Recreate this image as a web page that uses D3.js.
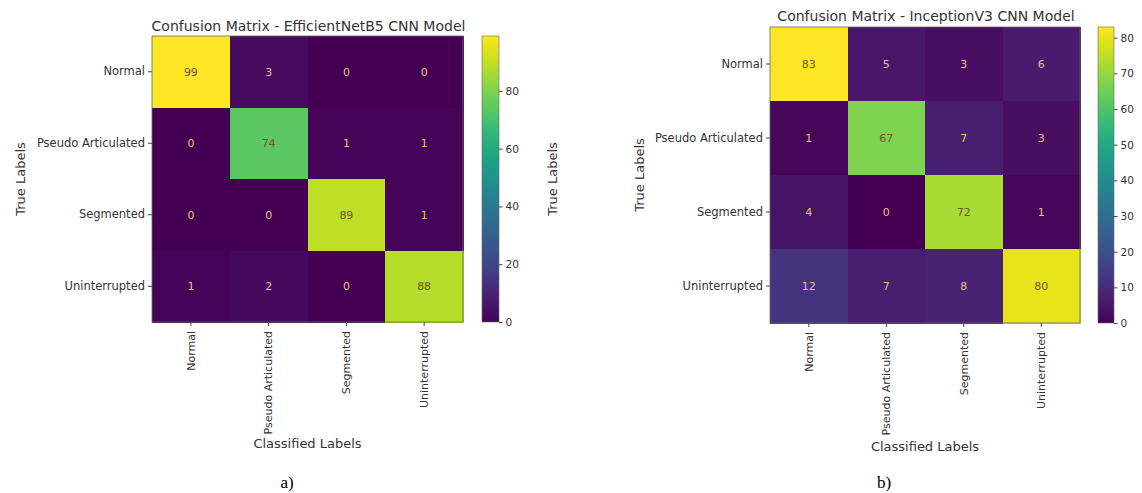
<!DOCTYPE html>
<html>
<head>
<meta charset="utf-8">
<script src="https://cdn.jsdelivr.net/npm/d3@7"></script>
<style>
  html, body { margin: 0; padding: 0; background: #fff; }
  svg { display: block; }
  .tick text { font-family: "DejaVu Sans", sans-serif; fill: #333; }
  .tick line { stroke: #444; }
</style>
</head>
<body>
<svg id="chart" width="1142" height="493"></svg>
<script>
// ---- data ----
const classes = ["Normal", "Pseudo Articulated", "Segmented", "Uninterrupted"];
const effnetTitle = "Confusion Matrix - EfficientNetB5 CNN Model";
const effnetValues = [
  [99, 3, 0, 0],
  [0, 74, 1, 1],
  [0, 0, 89, 1],
  [1, 2, 0, 88]
];
const effnetColorbarTicks = [0, 20, 40, 60, 80];
const inceptionTitle = "Confusion Matrix - InceptionV3 CNN Model";
const inceptionValues = [
  [83, 5, 3, 6],
  [1, 67, 7, 3],
  [4, 0, 72, 1],
  [12, 7, 8, 80]
];
const inceptionColorbarTicks = [0, 10, 20, 30, 40, 50, 60, 70, 80];
const xAxisLabel = "Classified Labels";
const yAxisLabel = "True Labels";
const captions = ["a)", "b)"];

// ---- drawing ----
const svg = d3.select("#chart");
const FONT = "DejaVu Sans, sans-serif";

function drawMatrix(opts) {
  const g = svg.append("g");
  const { values, title, ticks, box, cbar, caption, cbarLabel } = opts;
  const vmax = d3.max(values.flat());
  const vmin = d3.min(values.flat());
  const color = d3.scaleSequential(d3.interpolateViridis).domain([vmin, vmax]);

  const x = d3.scaleBand().domain(classes).range([box.x0, box.x1]);
  const y = d3.scaleBand().domain(classes).range([box.y0, box.y1]);

  const cells = [];
  values.forEach((row, i) => row.forEach((v, j) => cells.push({ t: classes[i], p: classes[j], v })));

  g.selectAll("rect.cell").data(cells).enter().append("rect")
    .attr("class", "cell")
    .attr("x", d => x(d.p)).attr("y", d => y(d.t))
    .attr("width", x.bandwidth() + 0.6).attr("height", y.bandwidth() + 0.6)
    .attr("shape-rendering", "crispEdges")
    .attr("fill", d => color(d.v));

  const thresh = (vmax + vmin) / 2;
  g.selectAll("text.val").data(cells).enter().append("text")
    .attr("class", "val")
    .attr("x", d => x(d.p) + x.bandwidth() / 2)
    .attr("y", d => y(d.t) + y.bandwidth() / 2)
    .attr("dy", "0.35em")
    .attr("text-anchor", "middle")
    .attr("font-family", FONT).attr("font-size", 11)
    .attr("fill", d => d.v > thresh ? "#6a5634" : "#efbf7c")
    .text(d => d.v);

  // frame
  g.append("rect").attr("x", box.x0).attr("y", box.y0)
    .attr("width", box.x1 - box.x0).attr("height", box.y1 - box.y0)
    .attr("fill", "none").attr("stroke", "#666").attr("stroke-width", 0.8);

  // y axis
  const ya = g.append("g").attr("transform", `translate(${box.x0},0)`)
    .call(d3.axisLeft(y).tickSize(4).tickPadding(3));
  ya.select(".domain").remove();
  ya.selectAll("text").attr("font-size", 11.5).attr("font-family", FONT);

  // x axis
  const xa = g.append("g").attr("transform", `translate(0,${box.y1})`)
    .call(d3.axisBottom(x).tickSize(4).tickPadding(3));
  xa.select(".domain").remove();
  xa.selectAll("text").attr("font-size", 11).attr("font-family", FONT)
    .attr("transform", "rotate(-90)")
    .attr("text-anchor", "end")
    .attr("x", -9).attr("y", 0).attr("dy", "0.35em");

  // title
  g.append("text").attr("x", (box.x0 + box.x1) / 2 + 1).attr("y", opts.titleY)
    .attr("text-anchor", "middle").attr("font-family", FONT).attr("font-size", 14)
    .attr("fill", "#333").text(title);

  // axis labels
  g.append("text").attr("transform", `translate(${opts.yLabelX},${(box.y0 + box.y1) / 2}) rotate(-90)`)
    .attr("text-anchor", "middle").attr("dy", "0.35em")
    .attr("font-family", FONT).attr("font-size", 13).attr("fill", "#333").text(yAxisLabel);
  g.append("text").attr("x", (box.x0 + box.x1) / 2).attr("y", opts.xLabelY)
    .attr("text-anchor", "middle").attr("dy", "0.35em")
    .attr("font-family", FONT).attr("font-size", 13).attr("fill", "#333").text(xAxisLabel);

  // colorbar
  const gid = "grad" + opts.id;
  const grad = svg.append("defs").append("linearGradient").attr("id", gid)
    .attr("x1", 0).attr("y1", 1).attr("x2", 0).attr("y2", 0);
  d3.range(0, 1.0001, 0.05).forEach(t => {
    grad.append("stop").attr("offset", t).attr("stop-color", d3.interpolateViridis(t));
  });
  g.append("rect").attr("x", cbar.x0).attr("y", box.y0)
    .attr("width", cbar.x1 - cbar.x0).attr("height", box.y1 - box.y0)
    .attr("fill", `url(#${gid})`).attr("stroke", "#666").attr("stroke-width", 0.6);
  const cs = d3.scaleLinear().domain([vmin, vmax]).range([box.y1, box.y0]);
  const ca = g.append("g").attr("transform", `translate(${cbar.x1},0)`)
    .call(d3.axisRight(cs).tickValues(ticks).tickSize(3.5).tickPadding(3));
  ca.select(".domain").remove();
  ca.selectAll("text").attr("font-size", 10.5).attr("font-family", FONT);

  if (cbarLabel) {
    g.append("text").attr("transform", `translate(${cbar.labelX},${(box.y0 + box.y1) / 2}) rotate(-90)`)
      .attr("text-anchor", "middle").attr("dy", "0.35em")
      .attr("font-family", FONT).attr("font-size", 13).attr("fill", "#333").text(cbarLabel);
  }

  // caption
  g.append("text").attr("x", caption.x).attr("y", caption.y)
    .attr("text-anchor", "middle").attr("dy", "0.35em")
    .attr("font-family", "Liberation Serif, serif").attr("font-size", 17).attr("fill", "#000")
    .text(caption.text);
}

drawMatrix({
  id: "a", values: effnetValues, title: effnetTitle, ticks: effnetColorbarTicks,
  box: { x0: 152, x1: 463, y0: 36, y1: 322 },
  cbar: { x0: 482, x1: 499, labelX: 552 }, cbarLabel: yAxisLabel,
  titleY: 31, yLabelX: 20, xLabelY: 443,
  caption: { x: 287, y: 482, text: captions[0] }
});

drawMatrix({
  id: "b", values: inceptionValues, title: inceptionTitle, ticks: inceptionColorbarTicks,
  box: { x0: 770, x1: 1080, y0: 27, y1: 323 },
  cbar: { x0: 1098, x1: 1114, labelX: null }, cbarLabel: null,
  titleY: 21, yLabelX: 639, xLabelY: 446,
  caption: { x: 884, y: 482, text: captions[1] }
});
</script>
</body>
</html>
